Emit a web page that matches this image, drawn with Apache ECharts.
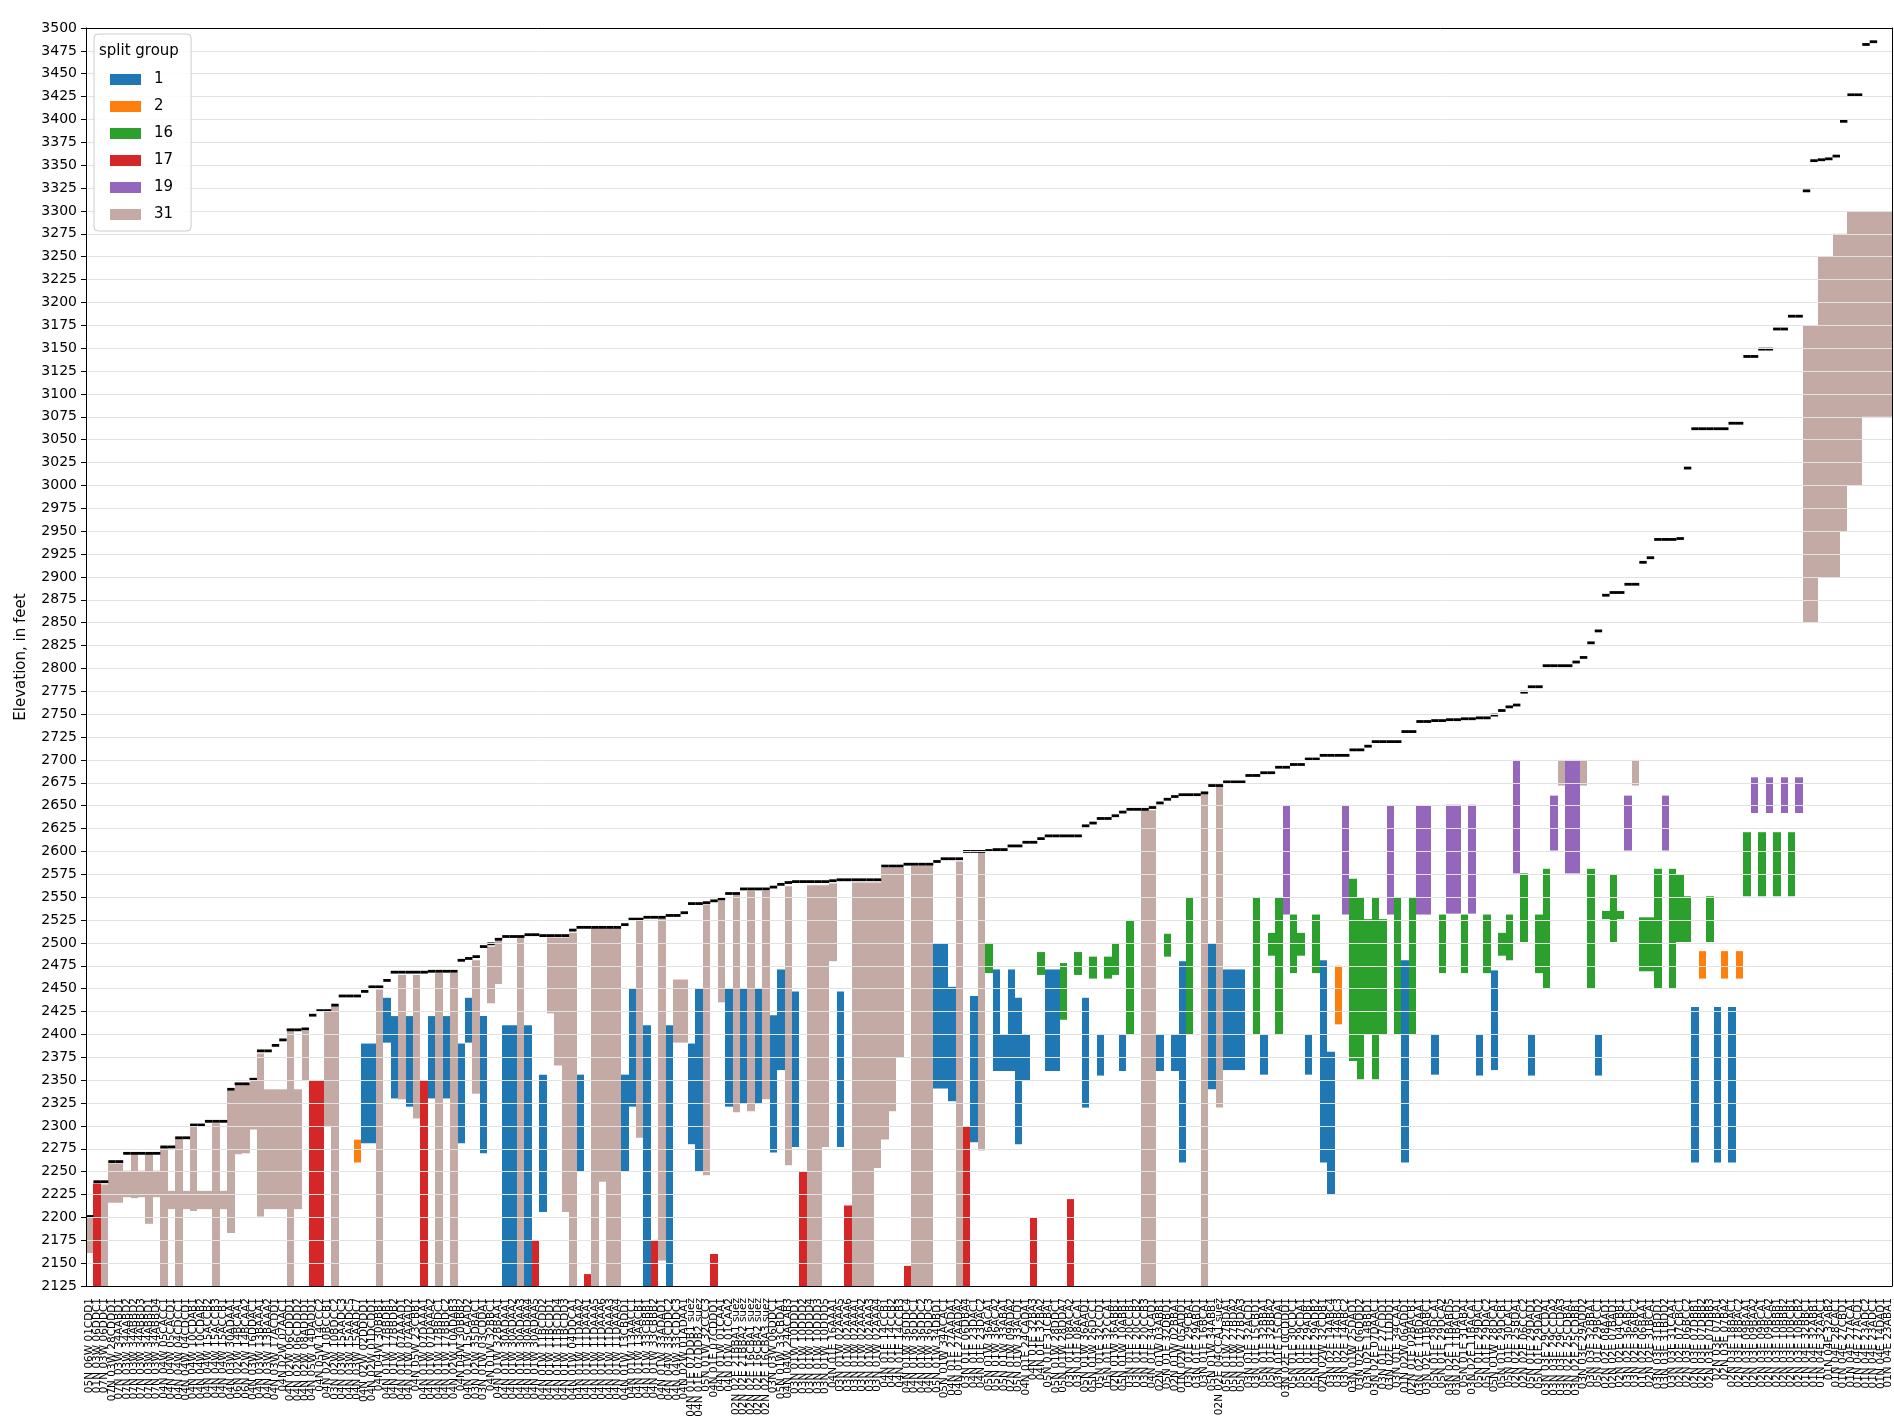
<!DOCTYPE html>
<html>
<head>
<meta charset="utf-8">
<script src="https://cdn.jsdelivr.net/npm/echarts@6/dist/echarts.min.js"></script>
<style>
html,body{margin:0;padding:0;background:#fff;}
#chart{width:1894px;height:1422px;}
</style>
</head>
<body>
<div id="chart"></div>
<script>
const categories = [
"05N 06W 01CDD1","01N 03W 06DDC1","07N 03W 06DDC1","07N 03W 28CDDD1","07N 03W 34AABD1","07N 03W 34AABD2","07N 03W 34ABBD2","07N 03W 34ABBD3","07N 03W 34ABBD1","07N 03W 34ABBD4",
"04N 04W 05CACC1","04N 04W 05CACD1","04N 04W 04CDCC1","04N 04W 04CDCD1","04N 04W 10CDAB1","04N 04W 10CDAB2","04N 04W 15ACCB2","04N 04W 15ACCB3","04N 04W 15ACCB1","04N 03W 30ADAA1",
"06N 02W 14BCAA1","06N 02W 14BCAA2","04N 03W 16DDAC1","04N 03W 13BAAA1","04N 03W 13BAAA2","04N 03W 17ACDD1","04N 02W 07AAC1","04N 02W 06CDDD1","04N 02W 06CDDD2","04N 02W 08ADDD1",
"04N 05W 14DADD1","04N 05W 14CCC2","04N 02W 10BCCB1","03N 02W 10BDCC2","04N 03W 15AADC3","04N 03W 15AADC5","04N 03W 15AADC7","04N 02W 02DDDD1","04N 02W 01DCDD1","04N 04W 30BBB1",
"04N 01W 17BBDB1","04N 01W 17BBDB2","04N 01W 07AAAD1","04N 01W 07AAAD2","04N 05W 23CBB1","04N 01W 07DAAA1","04N 01W 07DAAA2","04N 01W 17BBDC1","04N 01W 17BBDC2","04N 02W 10ADAB3",
"04N 04W 30BBB2","04N 01W 15CAAD2","03N 02W 35DBAC1","03N 01W 03CDDA1","04N 01W 32BBC1","04N 01W 32BBAA1","04N 01W 30ADAA1","04N 01W 30ADAA2","04N 01W 30ADAA3","04N 01W 30ADAA4",
"04N 01W 30ADAA5","04N 01W 11BCDD2","04N 01W 11BCDD1","04N 01W 11BCDD4","04N 01W 11BCDD3","04N 01W 04DDCA1","04N 01W 11DAAA2","04N 01W 11DAAA1","04N 01W 11DAAA5","04N 01W 11DAAA6",
"04N 01W 11DAAA3","04N 01W 11DAAA4","04N 01W 13CBDD1","04N 01W 13AACC1","04N 01W 13AACB1","04N 01W 33CBBB1","04N 01W 33CBBB2","04N 01W 33ADAD1","04N 04W 33CDDC2","04N 04W 33CDDC3",
"04N 02W 01ADAA1","04N 01E 07DDB1 suez","04N 01E 07DDB2 suez","05N 01W 32CCC3","04N 01E 07CDDD1","04N 01W 01CAA1","04N 01W 01CAA2","02N 02E 21BBA1 suez","02N 02E 21BBA2 suez","02N 02E 16CBA1 suez",
"02N 02E 16CBA2 suez","02N 02E 16CBA3 suez","03N 03W 06DDC1","05N 01W 33CBDA1","04N 04W 24ACAB3","03N 01W 10DDD1","03N 01W 10DDD2","03N 01W 10DDD4","03N 01W 10DDD3","03N 01W 10DDD5",
"04N 01E 16AAA1","03N 01W 02AAA5","03N 01W 02AAA6","03N 01W 02AAA1","03N 01W 02AAA2","03N 01W 02AAA3","03N 01W 02AAA4","04N 01E 14CCB1","04N 01E 14CCB2","04N 01E 14CCB3",
"04N 01W 36DDC4","04N 01W 36DDC1","04N 01W 36DDC2","04N 01W 36DDC3","05N 01W 34DBD1","05N 01W 34ACAC1","04N 01E 27AADA1","04N 01E 27AADA2","03N 01E 06DBA4","04N 01E 23DAC1",
"04N 01E 23DAC2","05N 01W 36ACA1","05N 01W 36ACA2","05N 01W 33ABA1","02N 01W 09ADA2","05N 01W 33ACD1","04N 01E 24CADA1","04N 01E 32BA3","04N 01E 32BA2","05N 01E 31CBA1",
"05N 01W 28DDC1","05N 01W 28DDA7","03N 01E 08ACA2","03N 01E 08ACA1","05N 01W 36AAD1","05N 01W 26DCC1","05N 01E 32CCD1","05N 01E 32CCA1","02N 01W 36ABB1","05N 01W 10ABB1",
"03N 01E 20CCB1","03N 01E 20CCB2","03N 01E 20CCB3","04N 01E 34CAD1","02N 01W 03ABB1","05N 01E 32DBD1","02N 01W 02BBA1","01N 02W 05ADD1","03N 01E 29CBA1","03N 01E 29ABD1",
"03N 01E 16BCA1","05N 01W 34ABB1","02N 02E 04CCA1 suez","05N 01W 27BDA1","05N 01W 27BDA2","05N 01W 27BDA3","03N 01E 32ACD1","03N 01E 15CBD1","05N 01E 32BBA1","05N 01E 32BBA2",
"03N 01E 15CDA1","03N 02E 10CDDD1","05N 01E 30CDC1","05N 01E 29CDA1","05N 01E 29ADB1","05N 01E 29ADB2","02N 02W 32CDB1","03N 02E 14ABC4","03N 02E 14ABC3","03N 02E 14ABC2",
"03N 01W 25DAD1","03N 02E 06DDD2","03N 02E 14BBD1","03N 02E 07DAAC1","03N 01E 27CDD1","03N 02E 11DDD1","03N 01E 34CAA1","01N 02W 06ADD1","02N 01E 02BACB1","03N 02E 11BDAA1",
"03N 02E 11BABC1","05N 01E 29DCA1","05N 01E 29DCA2","03N 02E 11BABD5","03N 02E 11BACD1","05N 01E 31ABA1","03N 02E 11BACA1","05N 01E 29DAC1","05N 01E 29DAC2","05N 01W 28DCA1",
"05N 01E 29DCB1","05N 01E 30CAC1","02N 02E 25BDA1","02N 02E 06CCC2","05N 01E 29DAD1","05N 01E 29DAD2","03N 03E 29CCDA1","03N 03E 29CCDA2","03N 03E 29CCDA3","03N 02E 25CDBA1",
"03N 02E 25CDBB1","03N 03E 29ADD2","03N 03E 32BBA1","05N 01E 29BCC1","02N 02E 08AAD1","02N 02E 07BAD1","02N 02E 04CBB1","03N 02E 36ABC1","03N 02E 36ABC2","01N 02E 06BAA1",
"02N 02E 31BCA1","03N 03E 31BDD1","03N 03E 31BDD2","03N 03E 31CAA1","02N 02E 07CBC1","02N 03E 06BCC2","02N 03E 07DBB1","02N 03E 07DBB2","02N 03E 07DBB3","02N 03E 07BA1",
"02N 03E 07BA2","02N 03E 18BAC1","02N 03E 18BAC2","02N 03E 09BAA1","02N 03E 09BAA2","02N 03E 09BCA1","02N 03E 09BCA2","02N 03E 10BBB1","02N 03E 10BBB2","02N 03E 10BCB1",
"02N 03E 10BCB2","01N 04E 32BBC1","01N 04E 32ABB1","01N 04E 32AAC1","01N 04E 32AB2","01N 04E 28CAC1","01N 04E 27CBD1","01N 04E 27ACA1","01N 04E 27ACD1","01N 04E 23ADC2",
"01N 04E 23ADC1","01N 04E 14DAD1","01N 04E 23ABA1"
];

const landSurface = [
2201,2239,2239,2261,2261,2270,2270,2270,2270,2270,
2277,2277,2287,2287,2301,2301,2305,2305,2305,2340,
2346,2346,2351,2382,2382,2388,2394,2405,2405,2406,
2421,2426,2426,2432,2442,2442,2442,2447,2452,2452,
2459,2468,2468,2468,2468,2468,2469,2469,2469,2469,
2481,2483,2485,2496,2499,2504,2507,2507,2507,2509,
2509,2508,2508,2508,2508,2514,2517,2517,2517,2517,
2517,2517,2520,2526,2526,2528,2528,2528,2530,2530,
2533,2543,2543,2544,2546,2548,2554,2554,2559,2559,
2559,2559,2561,2564,2566,2567,2567,2567,2567,2567,
2568,2569,2569,2569,2569,2569,2569,2584,2584,2584,
2586,2586,2586,2586,2589,2592,2592,2592,2600,2600,
2600,2601,2602,2602,2606,2606,2610,2610,2614,2617,
2617,2617,2617,2617,2628,2631,2636,2636,2639,2643,
2646,2646,2646,2648,2653,2657,2660,2662,2662,2662,
2664,2672,2672,2676,2676,2676,2683,2683,2686,2686,
2692,2692,2695,2695,2701,2701,2705,2705,2705,2705,
2711,2711,2715,2720,2720,2720,2720,2731,2731,2742,
2742,2743,2743,2744,2744,2745,2745,2746,2746,2749,
2754,2758,2760,2774,2780,2780,2803,2803,2803,2803,
2807,2812,2828,2841,2880,2883,2883,2892,2892,2916,
2921,2941,2941,2941,2942,3019,3062,3062,3062,3062,
3062,3068,3068,3141,3141,3149,3149,3171,3171,3185,
3185,3322,3355,3356,3357,3360,3398,3427,3427,3482,
3485,null,null
];

const splitGroup = [
31,17,31,31,31,31,31,31,31,31,
31,31,31,31,31,31,31,31,31,31,
31,31,31,31,31,31,31,31,31,31,
17,17,31,31,null,null,2,1,1,31,
1,1,31,1,31,17,1,31,1,31,
1,1,31,1,31,31,1,1,31,1,
17,1,31,31,31,31,1,17,31,31,
31,31,1,1,31,1,17,31,1,31,
31,1,1,31,17,31,1,31,1,31,
1,31,1,1,31,1,17,31,31,31,
31,1,17,31,31,31,31,31,31,31,
17,31,31,31,1,1,1,31,17,1,
31,16,1,1,1,1,1,17,16,1,
1,16,17,16,1,16,1,16,16,1,
16,null,31,31,1,16,1,1,16,null,
31,1,31,1,1,1,null,16,1,16,
16,19,16,16,1,16,1,1,2,19,
16,16,16,16,16,19,16,1,16,19,
19,1,16,19,19,16,19,1,16,1,
16,16,19,16,1,16,16,19,31,19,
19,31,16,1,16,16,16,19,31,16,
16,16,19,16,16,16,1,2,16,1,
2,1,2,16,19,16,19,16,19,16,
19,31,31,31,31,31,31,31,31,31,
31,31,31
];

const intervalBottom = [
2161,2125,2125,2216,2216,2222,2221,2222,2193,2222,
2125,2209,2125,2209,2207,2209,2209,2125,2209,2183,
2269,2270,2296,2201,2209,2209,2209,2125,2209,2349,
2125,2125,2300,2125,null,null,2260,2281,2281,2125,
2391,2330,2329,2321,2308,2125,2330,2125,2330,2125,
2281,2391,2335,2270,2434,2455,2125,2125,2125,2125,
2125,2206,2423,2366,2206,2125,2250,2125,2125,2239,
2125,2125,2250,2321,2287,2125,2125,2153,2125,2391,
2391,2280,2250,2246,2125,2435,2321,2315,2325,2316,
2325,2329,2271,2361,2257,2277,2125,2125,2125,2277,
2480,2277,2125,2125,2125,2125,2254,2285,2316,2375,
2125,2125,2125,2125,2341,2341,2327,2125,2125,2282,
2273,2467,2360,2360,2360,2280,2350,2125,2465,2360,
2360,2416,2125,2465,2320,2461,2355,2461,2465,2360,
2400,null,2125,2125,2360,2485,2360,2260,2400,null,
2125,2340,2320,2361,2361,2361,null,2400,2356,2486,
2400,2531,2467,2486,2356,2467,2260,2225,2411,2531,
2371,2351,2400,2351,2400,2531,2400,2260,2400,2531,
2531,2356,2467,2532,2532,2467,2532,2355,2467,2361,
2486,2481,2576,2501,2355,2467,2450,2601,2672,2576,
2576,2672,2450,2355,2526,2501,2526,2601,2672,2469,
2469,2450,2601,2450,2501,2501,2260,2461,2501,2260,
2461,2260,2461,2551,2642,2551,2642,2551,2642,2551,
2642,2850,2850,2900,2900,2900,2950,3000,3000,3075,
3075,3075,3075
];

const intervalTop = [
2200,2237,2236,2259,2259,2251,2270,2251,2270,2251,
2277,2229,2286,2229,2300,2229,2229,2303,2229,2338,
2346,2346,2349,2379,2340,2340,2340,2404,2340,2404,
2350,2350,2425,2431,null,null,2285,2390,2390,2449,
2440,2420,2465,2420,2465,2350,2420,2467,2420,2467,
2390,2440,2481,2420,2496,2503,2410,2410,2506,2410,
2175,2356,2506,2506,2506,2511,2356,2138,2516,2516,
2516,2516,2356,2450,2524,2410,2175,2527,2410,2460,
2460,2390,2450,2542,2160,2546,2450,2553,2450,2557,
2450,2557,2421,2471,2562,2447,2250,2563,2563,2563,
2565,2447,2213,2566,2566,2566,2566,2582,2582,2582,
2147,2584,2584,2584,2500,2500,2452,2589,2300,2442,
2599,2500,2471,2400,2471,2440,2400,2200,2490,2471,
2471,2478,2220,2490,2440,2485,2400,2485,2500,2400,
2525,null,2645,2645,2400,2510,2400,2480,2550,null,
2664,2500,2672,2471,2471,2471,null,2550,2400,2511,
2550,2650,2531,2511,2400,2531,2481,2381,2475,2650,
2570,2550,2526,2550,2526,2650,2550,2481,2550,2650,
2650,2400,2531,2651,2651,2531,2651,2400,2531,2470,
2511,2531,2700,2576,2400,2531,2581,2661,2700,2700,
2700,2700,2581,2400,2535,2575,2535,2661,2700,2528,
2528,2581,2661,2581,2575,2551,2430,2491,2551,2430,
2491,2430,2491,2621,2681,2621,2681,2621,2681,2621,
2681,3175,3175,3250,3250,3275,3275,3300,3300,3300,
3300,3300,3300
];

const groupNames = ["1","2","16","17","19","31"];
const groupColors = {"1":"#1f77b4","2":"#ff7f0e","16":"#2ca02c","17":"#d62728","19":"#9467bd","31":"#c4aaa4"};
const yMin = 2125, yMax = 3500, yStep = 25;

function renderInterval(params, api) {
  const x = api.value(0);
  const pBot = api.coord([x, api.value(1)]);
  const pTop = api.coord([x, api.value(2)]);
  const w = api.size([1, 0])[0];
  const x0 = Math.round(pBot[0] - w / 2);
  const x1 = Math.round(pBot[0] + w / 2);
  return {
    type: 'rect',
    shape: {x: x0, y: pTop[1], width: x1 - x0, height: pBot[1] - pTop[1]},
    style: {fill: api.visual('color')}
  };
}
function renderLand(params, api) {
  const x = api.value(0);
  const p = api.coord([x, api.value(1)]);
  const w = api.size([1, 0])[0];
  const h = 2.8;
  return {
    type: 'rect',
    shape: {x: p[0] - w / 2, y: p[1] - h / 2, width: w, height: h},
    style: {fill: '#000'}
  };
}

const series = groupNames.map(g => {
  const data = [];
  for (let i = 0; i < categories.length; i++) {
    if (splitGroup[i] !== null && String(splitGroup[i]) === g) {
      data.push([i, intervalBottom[i], intervalTop[i]]);
    }
  }
  return {
    name: g,
    type: 'custom',
    renderItem: renderInterval,
    itemStyle: {color: groupColors[g]},
    encode: {x: 0, y: [1, 2]},
    data: data,
    z: 3
  };
});
const landData = [];
for (let i = 0; i < categories.length; i++) {
  if (landSurface[i] !== null) landData.push([i, landSurface[i]]);
}
series.push({
  name: 'land surface',
  type: 'custom',
  renderItem: renderLand,
  encode: {x: 0, y: 1},
  data: landData,
  itemStyle: {color: '#000'},
  z: 5
});

const chart = echarts.init(document.getElementById('chart'), null, {renderer: 'canvas'});
chart.setOption({
  animation: false,
  backgroundColor: '#ffffff',
  textStyle: {fontFamily: 'DejaVu Sans'},
  title: {
    text: 'split group', left: 99, top: 44, padding: 0,
    textStyle: {fontSize: 15, fontWeight: 'normal', color: '#000', fontFamily: 'DejaVu Sans'},
    z: 20
  },
  legend: {
    orient: 'vertical', left: 94, top: 34,
    data: groupNames,
    icon: 'rect', itemWidth: 31, itemHeight: 11, itemGap: 12,
    padding: [38, 18, 9, 16],
    borderColor: '#cccccc', borderWidth: 1, borderRadius: 4,
    backgroundColor: 'rgba(255,255,255,0.85)',
    textStyle: {fontSize: 15, color: '#000', padding: [0, 0, 0, 8]},
    z: 15
  },
  grid: {left: 86, right: 2, top: 28, bottom: 136, containLabel: false},
  xAxis: [{
    type: 'category', data: categories, boundaryGap: true,
    axisLine: {lineStyle: {color: '#000', width: 1}},
    axisTick: {alignWithLabel: true, interval: 0, length: 5, lineStyle: {color: '#000'}},
    axisLabel: {interval: 0, rotate: 90, fontSize: 10.5, color: '#000', margin: 12},
    splitLine: {show: false},
    z: 10
  }, {
    type: 'category', data: categories, position: 'top', boundaryGap: true,
    axisLine: {lineStyle: {color: '#000', width: 1}},
    axisTick: {show: false}, axisLabel: {show: false}, splitLine: {show: false},
    z: 10
  }],
  yAxis: [{
    type: 'value', min: yMin, max: yMax, interval: yStep,
    name: 'Elevation, in feet', nameLocation: 'middle', nameGap: 57,
    nameTextStyle: {fontSize: 15, color: '#000'},
    axisLine: {show: true, lineStyle: {color: '#000', width: 1}},
    axisTick: {show: true, length: 5, lineStyle: {color: '#000'}},
    axisLabel: {fontSize: 14, color: '#000', margin: 9, formatter: v => String(v)},
    splitLine: {show: true, lineStyle: {color: '#e2e2e2', width: 1}},
    z: 10
  }, {
    type: 'value', min: yMin, max: yMax, interval: yStep, position: 'right',
    axisLine: {show: true, lineStyle: {color: '#000', width: 1}},
    axisTick: {show: false}, axisLabel: {show: false}, splitLine: {show: false},
    z: 10
  }],
  series: series
});
</script>
</body>
</html>
